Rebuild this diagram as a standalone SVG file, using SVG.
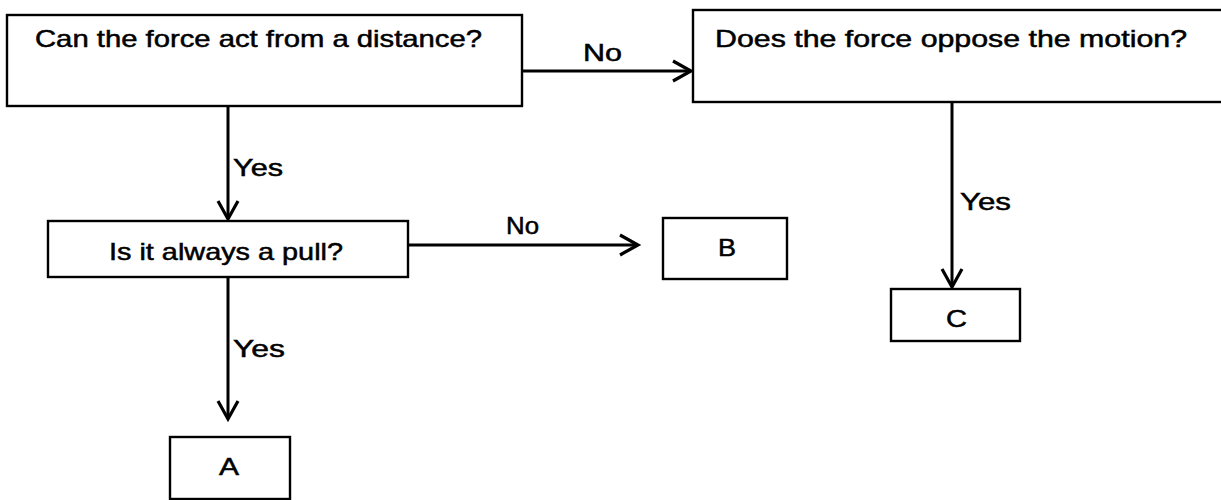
<svg xmlns="http://www.w3.org/2000/svg" width="1221" height="500" viewBox="0 0 1221 500">
<style>
.box{fill:#fff;stroke:#000;stroke-width:2.4}
.t{font-family:"Liberation Sans",Arial,sans-serif;font-size:24px;fill:#000;stroke:#000;stroke-width:0.5}
.c{fill:none;stroke:#000;stroke-width:3}
</style>
<defs>
<marker id="ah" markerUnits="userSpaceOnUse" markerWidth="24" markerHeight="26" refX="20" refY="12" orient="auto" viewBox="0 0 24 26">
<path d="M2,2 L20,12 L2,22" fill="none" stroke="#000" stroke-width="3.2"/>
</marker>
</defs>
<rect width="1221" height="500" fill="#fff"/>
<g id="connectors">
<line class="c" x1="228" y1="106" x2="228" y2="219" marker-end="url(#ah)"/>
<line class="c" x1="228" y1="277" x2="228" y2="419" marker-end="url(#ah)"/>
<line class="c" x1="522" y1="71" x2="691" y2="71" marker-end="url(#ah)"/>
<line class="c" x1="408" y1="245" x2="638" y2="245" marker-end="url(#ah)"/>
<line class="c" x1="952" y1="102" x2="952" y2="287" marker-end="url(#ah)"/>
<text class="t" x="583" y="61" textLength="39" lengthAdjust="spacingAndGlyphs">No</text>
<text class="t" x="233" y="176" textLength="50" lengthAdjust="spacingAndGlyphs">Yes</text>
<text class="t" x="233" y="357" textLength="52" lengthAdjust="spacingAndGlyphs">Yes</text>
<text class="t" x="506" y="234" textLength="33" lengthAdjust="spacingAndGlyphs">No</text>
<text class="t" x="960" y="210" textLength="51" lengthAdjust="spacingAndGlyphs">Yes</text>
</g>
<g id="n1">
<rect class="box" x="7" y="15" width="515" height="91"/>
<text class="t" x="35" y="47" textLength="447" lengthAdjust="spacingAndGlyphs">Can the force act from a distance?</text>
</g>
<g id="n2">
<rect class="box" x="693" y="10" width="540" height="92"/>
<text class="t" x="715" y="47" textLength="472" lengthAdjust="spacingAndGlyphs">Does the force oppose the motion?</text>
</g>
<g id="n3">
<rect class="box" x="48" y="221" width="360" height="56"/>
<text class="t" x="109" y="260" textLength="234" lengthAdjust="spacingAndGlyphs">Is it always a pull?</text>
</g>
<g id="nB">
<rect class="box" x="663" y="218" width="124" height="61"/>
<text class="t" x="718" y="256" textLength="18" lengthAdjust="spacingAndGlyphs">B</text>
</g>
<g id="nA">
<rect class="box" x="170" y="437" width="120" height="62"/>
<text class="t" x="219" y="475" textLength="20" lengthAdjust="spacingAndGlyphs">A</text>
</g>
<g id="nC">
<rect class="box" x="891" y="289" width="129" height="52"/>
<text class="t" x="946" y="327" textLength="21" lengthAdjust="spacingAndGlyphs">C</text>
</g>
</svg>
